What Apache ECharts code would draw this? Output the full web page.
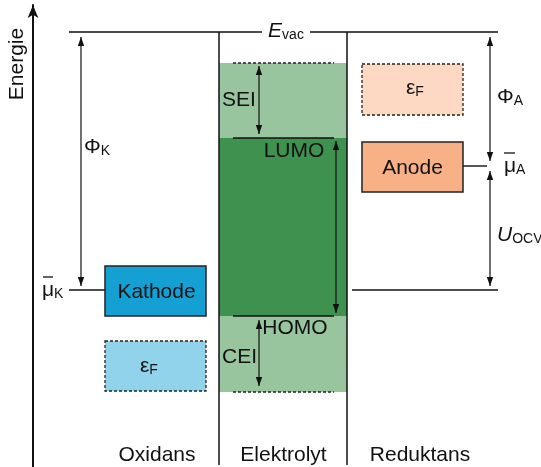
<!DOCTYPE html>
<html><head><meta charset="utf-8">
<script src="https://cdn.jsdelivr.net/npm/echarts@6/dist/echarts.min.js"></script>
<style>html,body{margin:0;padding:0;background:#fff}#c{width:541px;height:467px}</style>
</head><body><div id="c"></div>
<script>
// ---- data: energy levels (arbitrary units, higher = more energy) ----
const levelNames  = ['Evac', 'SEI', 'LUMO', 'HOMO', 'CEI', 'muK', 'muA'];
const levelValues = [435, 404, 329, 151, 75, 177, 301];
// boxes: electrodes and their Fermi-level bands
const boxNames  = ['Kathode', 'εF_K', 'Anode', 'εF_A'];
const boxTop    = [201, 126, 325, 403];
const boxBottom = [151, 76, 275, 352];
// region labels along the bottom
const regionNames = ['Oxidans', 'Elektrolyt', 'Reduktans'];

const lv = {}; levelNames.forEach((n, i) => lv[n] = levelValues[i]);
const bx = {}; boxNames.forEach((n, i) => bx[n] = [boxTop[i], boxBottom[i]]);
const FONT = '"Liberation Sans", Arial, Helvetica, sans-serif';

// layout (x positions in px along hidden x axis)
const X = {
  evacL: 69, evacGapL: 262, evacGapR: 310, evacR: 498,
  divL: 219, divR: 347, innerL: 233, innerR: 334,
  kL: 105, kR: 206, aL: 362, aR: 463,
  phiK: 81, phiA: 490, sei: 259, gap: 336,
  rightLevelL: 352, muALineR: 487,
  regions: [157, 283.5, 420]
};

function renderItem(params, api) {
  const P = (x, v) => api.coord([x, v]);
  const kids = [];
  const line = (x1, v1, x2, v2, st) => {
    const a = P(x1, v1), b = P(x2, v2);
    kids.push({type: 'line', shape: {x1: a[0], y1: a[1], x2: b[0], y2: b[1]},
      style: Object.assign({stroke: '#111', lineWidth: 1.4}, st || {})});
  };
  const rect = (x1, vT, x2, vB, st) => {
    const a = P(x1, vT), b = P(x2, vB);
    kids.push({type: 'rect', shape: {x: a[0], y: a[1], width: b[0] - a[0], height: b[1] - a[1]}, style: st});
  };
  const head = (x, v, dir) => {
    const t = P(x, v), L = 9, w = 3.2;
    kids.push({type: 'polygon', shape: {points: [[t[0], t[1]], [t[0] - w, t[1] - dir * L], [t[0] + w, t[1] - dir * L]]},
      style: {fill: '#111'}});
  };
  const darrow = (x, vT, vB) => { line(x, vT, x, vB, {lineWidth: 1.2}); head(x, vT, -1); head(x, vB, 1); };
  const text = (x, v, str, st, rot) => {
    const a = P(x, v);
    kids.push({type: 'text', x: a[0], y: a[1], rotation: rot || 0,
      style: Object.assign({text: str, fill: '#111', font: '21px ' + FONT, align: 'center', verticalAlign: 'middle'}, st || {})});
  };
  const sub = (x, v, main, s, align, italic) => {
    text(x, v, '{m|' + main + '}{s|' + s + '}', {
      align: align,
      rich: {
        m: {fontSize: 21, fontFamily: FONT, fontStyle: italic ? 'italic' : 'normal', lineHeight: 22, fill: '#111'},
        s: {fontSize: 14, fontFamily: FONT, lineHeight: 10, verticalAlign: 'bottom', fill: '#111'}
      }
    });
  };
  const dashed = {stroke: '#222', lineWidth: 1.3, lineDash: [3, 2]};

  // electrolyte stability window
  rect(X.divL, lv.SEI, X.divR, lv.CEI, {fill: '#98c59e'});
  rect(X.divL, lv.LUMO, X.divR, lv.HOMO, {fill: '#3f9150'});
  // dividers
  line(X.divL, lv.Evac, X.divL, 2, {lineWidth: 1.5});
  line(X.divR, lv.Evac, X.divR, 2, {lineWidth: 1.5});
  // vacuum level
  line(X.evacL, lv.Evac, X.evacGapL, lv.Evac, {lineWidth: 1.5});
  line(X.evacGapR, lv.Evac, X.evacR, lv.Evac, {lineWidth: 1.5});
  // electrolyte levels
  line(X.innerL, lv.SEI, X.innerR, lv.SEI, dashed);
  line(X.innerL, lv.LUMO, X.innerR, lv.LUMO, {lineWidth: 1.4});
  line(X.innerL, lv.HOMO, X.innerR, lv.HOMO, {lineWidth: 1.4});
  line(X.innerL, lv.CEI, X.innerR, lv.CEI, dashed);
  // chemical potential lines
  line(X.evacL, lv.muK, X.kL, lv.muK);
  line(X.rightLevelL, lv.muK, X.evacR, lv.muK);
  line(X.aR, lv.muA, X.muALineR, lv.muA);
  // boxes
  rect(X.kL, bx['εF_K'][0], X.kR, bx['εF_K'][1], Object.assign({fill: '#92d3ec'}, dashed));
  rect(X.aL, bx['εF_A'][0], X.aR, bx['εF_A'][1], Object.assign({fill: '#fdd8c3'}, dashed));
  rect(X.kL, bx['Kathode'][0], X.kR, bx['Kathode'][1], {fill: '#14a0d3', stroke: '#222', lineWidth: 1.5});
  rect(X.aL, bx['Anode'][0], X.aR, bx['Anode'][1], {fill: '#f8b087', stroke: '#222', lineWidth: 1.5});
  // arrows
  const g = 4;
  darrow(X.phiK, lv.Evac - 5, lv.muK + g);
  darrow(X.phiA, lv.Evac - 5, lv.muA + 5);
  darrow(X.phiA, lv.muA - 5, lv.muK + g);
  darrow(X.sei, lv.SEI - 3, lv.LUMO + 4);
  darrow(X.gap, lv.LUMO - 3, lv.HOMO + 3);
  darrow(X.sei, lv.HOMO - 4, lv.CEI + 6);
  // labels
  text(17, 467 - 64, 'Energie', {}, Math.PI / 2);
  sub(286, lv.Evac + 1, 'E', 'vac', 'center', true);
  sub(84, 467 - 147, 'Φ', 'K', 'left');
  sub(497, 467 - 97, 'Φ', 'A', 'left');
  sub(497, 467 - 235, 'U', 'OCV', 'left', true);
  sub(42, lv.muK, 'μ', 'K', 'left');
  line(43, lv.muK + 13, 53, lv.muK + 13, {lineWidth: 1.3});
  sub(504, lv.muA, 'μ', 'A', 'left');
  line(504, lv.muA + 13, 515, lv.muA + 13, {lineWidth: 1.3});
  text((X.kL + X.kR) / 2 + 1, (bx['Kathode'][0] + bx['Kathode'][1]) / 2 - 1, 'Kathode');
  text((X.aL + X.aR) / 2, (bx['Anode'][0] + bx['Anode'][1]) / 2 - 1, 'Anode');
  sub(140, (bx['εF_K'][0] + bx['εF_K'][1]) / 2, 'ε', 'F', 'left');
  sub(406, (bx['εF_A'][0] + bx['εF_A'][1]) / 2 + 1, 'ε', 'F', 'left');
  text(222, 467 - 100, 'SEI', {align: 'left'});
  text(222, 467 - 357, 'CEI', {align: 'left'});
  text(294, lv.LUMO - 13, 'LUMO');
  text(295, lv.HOMO - 12, 'HOMO');
  regionNames.forEach((n, i) => text(X.regions[i], 467 - 455, n));
  return {type: 'group', children: kids};
}

const chart = echarts.init(document.getElementById('c'), null, {renderer: 'canvas'});
chart.setOption({
  animation: false,
  backgroundColor: '#fff',
  grid: {left: 0, right: 0, top: 5, bottom: 0},
  xAxis: {type: 'value', min: 0, max: 541, show: false},
  yAxis: {
    type: 'value', min: 0, max: 462, position: 'left', offset: -33,
    axisLine: {show: true, symbol: ['none', 'arrow'], symbolSize: [8, 13], lineStyle: {color: '#111', width: 2}},
    axisTick: {show: false}, axisLabel: {show: false}, splitLine: {show: false}
  },
  series: [{type: 'custom', renderItem: renderItem, data: [[0, 0]], clip: false, silent: true}]
});
</script></body></html>
